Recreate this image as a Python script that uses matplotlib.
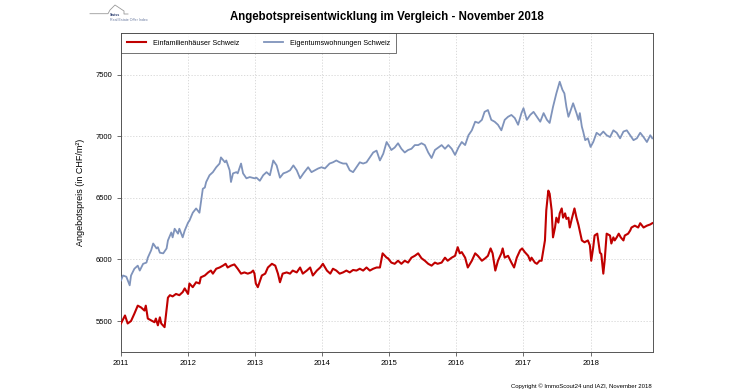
import matplotlib
matplotlib.use("Agg")
import matplotlib.pyplot as plt
from matplotlib.lines import Line2D

plt.rcParams['font.family'] = ['Liberation Sans', 'DejaVu Sans']

# Einfamilienhäuser Schweiz (CHF/m2), decimal year
efh_year = [2011.00, 2011.06, 2011.10, 2011.15, 2011.20, 2011.25, 2011.30, 2011.35, 2011.37, 2011.40,
            2011.45, 2011.50, 2011.52, 2011.55, 2011.58, 2011.60, 2011.65, 2011.70, 2011.73, 2011.77,
            2011.82, 2011.87, 2011.92, 2011.95, 2012.00, 2012.02, 2012.07, 2012.12, 2012.17, 2012.19,
            2012.25, 2012.30, 2012.34, 2012.37, 2012.42, 2012.47, 2012.52, 2012.56, 2012.59, 2012.64,
            2012.69, 2012.74, 2012.79, 2012.84, 2012.89, 2012.94, 2012.97, 2012.99, 2013.01, 2013.04,
            2013.10, 2013.15, 2013.19, 2013.25, 2013.30, 2013.34, 2013.37, 2013.41, 2013.47, 2013.52,
            2013.56, 2013.62, 2013.67, 2013.71, 2013.77, 2013.82, 2013.86, 2013.92, 2013.97, 2014.01,
            2014.07, 2014.12, 2014.16, 2014.21, 2014.26, 2014.31, 2014.36, 2014.41, 2014.46, 2014.51,
            2014.56, 2014.61, 2014.66, 2014.71, 2014.76, 2014.81, 2014.86, 2014.90, 2014.96, 2014.98,
            2015.03, 2015.08, 2015.13, 2015.18, 2015.23, 2015.28, 2015.33, 2015.38, 2015.43, 2015.48,
            2015.53, 2015.58, 2015.63, 2015.68, 2015.72, 2015.78, 2015.83, 2015.87, 2015.93, 2015.98,
            2016.02, 2016.05, 2016.08, 2016.13, 2016.17, 2016.23, 2016.28, 2016.32, 2016.38, 2016.43,
            2016.47, 2016.51, 2016.54, 2016.58, 2016.62, 2016.67, 2016.69, 2016.72, 2016.77, 2016.82,
            2016.86, 2016.90, 2016.95, 2016.98, 2017.02, 2017.07, 2017.10, 2017.12, 2017.17, 2017.20,
            2017.24, 2017.27, 2017.32, 2017.34, 2017.37, 2017.39, 2017.42, 2017.44, 2017.47, 2017.49,
            2017.52, 2017.54, 2017.57, 2017.59, 2017.62, 2017.64, 2017.67, 2017.69, 2017.72, 2017.76,
            2017.79, 2017.82, 2017.87, 2017.91, 2017.96, 2017.99, 2018.01, 2018.04, 2018.06, 2018.10,
            2018.14, 2018.16, 2018.19, 2018.21, 2018.24, 2018.29, 2018.31, 2018.34, 2018.36, 2018.39,
            2018.42, 2018.45, 2018.49, 2018.51, 2018.56, 2018.59, 2018.61, 2018.66, 2018.71, 2018.74,
            2018.79, 2018.84, 2018.89, 2018.92]
efh_price = [5480, 5545, 5480, 5500, 5560, 5625, 5610, 5585, 5625, 5520,
             5505, 5490, 5520, 5465, 5530, 5480, 5450, 5690, 5710, 5700,
             5720, 5710, 5735, 5765, 5720, 5805, 5775, 5815, 5805, 5855,
             5870, 5895, 5910, 5885, 5925, 5935, 5950, 5965, 5935, 5950,
             5960, 5925, 5885, 5895, 5885, 5895, 5910, 5885, 5805, 5775,
             5870, 5885, 5935, 5965, 5950, 5885, 5815, 5885, 5895, 5885,
             5910, 5895, 5935, 5885, 5910, 5935, 5870, 5910, 5935, 5965,
             5910, 5885, 5925, 5910, 5885, 5895, 5910, 5895, 5915, 5910,
             5925, 5910, 5935, 5910, 5925, 5935, 5935, 6050, 6015, 6010,
             5975, 5965, 5990, 5965, 5990, 5975, 6015, 6030, 6050, 6010,
             5990, 5965, 5950, 5975, 5965, 5975, 6015, 5990, 6015, 6030,
             6100, 6050, 6060, 6015, 5935, 5990, 6050, 6030, 5990, 6010,
             6030, 6090, 6050, 5910, 5990, 6050, 6090, 6015, 6030, 5975,
             5935, 6015, 6075, 6090, 6060, 6030, 5990, 6015, 5975, 5965,
             5990, 5990, 6155, 6400, 6560, 6535, 6400, 6180, 6260, 6340,
             6300, 6375, 6415, 6340, 6375, 6330, 6340, 6260, 6330, 6415,
             6340, 6280, 6155, 6140, 6155, 6115, 5990, 6100, 6195, 6210,
             6055, 6045, 5885, 5990, 6210, 6195, 6130, 6180, 6155, 6180,
             6210, 6180, 6155, 6195, 6210, 6235, 6260, 6275, 6260, 6295,
             6260, 6275, 6285, 6295]

# Eigentumswohnungen Schweiz (CHF/m2), decimal year
etw_year = [2011.00, 2011.03, 2011.08, 2011.13, 2011.15, 2011.20, 2011.25, 2011.28, 2011.33, 2011.38,
            2011.40, 2011.45, 2011.48, 2011.53, 2011.55, 2011.58, 2011.63, 2011.68, 2011.70, 2011.75,
            2011.77, 2011.80, 2011.85, 2011.87, 2011.92, 2011.95, 2012.00, 2012.02, 2012.07, 2012.12,
            2012.17, 2012.22, 2012.25, 2012.27, 2012.32, 2012.37, 2012.42, 2012.47, 2012.49, 2012.55,
            2012.57, 2012.62, 2012.64, 2012.67, 2012.72, 2012.74, 2012.79, 2012.82, 2012.87, 2012.92,
            2012.99, 2013.02, 2013.07, 2013.12, 2013.17, 2013.22, 2013.27, 2013.32, 2013.37, 2013.42,
            2013.47, 2013.52, 2013.57, 2013.62, 2013.67, 2013.72, 2013.79, 2013.84, 2013.89, 2013.94,
            2013.99, 2014.04, 2014.11, 2014.16, 2014.21, 2014.26, 2014.31, 2014.36, 2014.41, 2014.46,
            2014.51, 2014.56, 2014.61, 2014.66, 2014.71, 2014.76, 2014.81, 2014.86, 2014.91, 2014.96,
            2015.01, 2015.03, 2015.08, 2015.13, 2015.18, 2015.23, 2015.28, 2015.33, 2015.38, 2015.43,
            2015.48, 2015.53, 2015.58, 2015.63, 2015.68, 2015.73, 2015.78, 2015.83, 2015.88, 2015.93,
            2015.98, 2016.03, 2016.08, 2016.13, 2016.18, 2016.23, 2016.28, 2016.33, 2016.38, 2016.42,
            2016.47, 2016.52, 2016.57, 2016.62, 2016.67, 2016.72, 2016.77, 2016.82, 2016.87, 2016.92,
            2016.97, 2017.00, 2017.05, 2017.10, 2017.15, 2017.20, 2017.25, 2017.30, 2017.35, 2017.39,
            2017.44, 2017.49, 2017.54, 2017.58, 2017.61, 2017.64, 2017.67, 2017.69, 2017.74, 2017.79,
            2017.82, 2017.84, 2017.87, 2017.89, 2017.92, 2017.96, 2018.00, 2018.04, 2018.09, 2018.14,
            2018.19, 2018.24, 2018.29, 2018.34, 2018.39, 2018.44, 2018.49, 2018.54, 2018.59, 2018.64,
            2018.69, 2018.74, 2018.79, 2018.84, 2018.89, 2018.92]
etw_price = [5830, 5870, 5860, 5790, 5870, 5925, 5950, 5910, 5965, 5975,
             6015, 6075, 6130, 6090, 6100, 6055, 6050, 6090, 6155, 6220,
             6180, 6250, 6210, 6250, 6180, 6235, 6300, 6315, 6380, 6415,
             6380, 6575, 6585, 6630, 6685, 6710, 6750, 6780, 6830, 6790,
             6805, 6725, 6630, 6700, 6710, 6700, 6780, 6700, 6660, 6670,
             6660, 6665, 6640, 6685, 6710, 6685, 6805, 6765, 6665, 6700,
             6710, 6725, 6765, 6725, 6660, 6700, 6750, 6710, 6725, 6740,
             6750, 6740, 6780, 6790, 6805, 6790, 6780, 6780, 6725, 6710,
             6750, 6790, 6780, 6790, 6830, 6870, 6885, 6805, 6860, 6955,
             6910, 6890, 6910, 6945, 6900, 6870, 6890, 6900, 6930, 6930,
             6945, 6930, 6870, 6825, 6890, 6910, 6930, 6900, 6930, 6900,
             6850, 6910, 6955, 6930, 7010, 7050, 7120, 7110, 7135, 7200,
             7215, 7135, 7120, 7095, 7050, 7135, 7160, 7175, 7150, 7095,
             7190, 7230, 7135, 7175, 7200, 7160, 7120, 7190, 7135, 7110,
             7240, 7350, 7445, 7380, 7350, 7240, 7160, 7190, 7270, 7190,
             7135, 7190, 7080, 7040, 6970, 6985, 6915, 6955, 7030, 7010,
             7040, 7010, 6995, 7050, 7030, 6985, 7040, 7050, 7010, 6970,
             6985, 7030, 6995, 6955, 7010, 6985]

year_ticks = [2011, 2012, 2013, 2014, 2015, 2016, 2017, 2018]
price_ticks = [5500, 6000, 6500, 7000, 7500]

red = '#c00000'
blue = '#7f93bb'

fig = plt.figure(figsize=(7.5, 3.92), dpi=100)
ax = fig.add_axes([0.1613, 0.102, 0.7093, 0.8138])

ax.plot(efh_year, efh_price, color=red, lw=1.5, label='Einfamilienhäuser Schweiz', zorder=3)
ax.plot(etw_year, etw_price, color=blue, lw=1.3, label='Eigentumswohnungen Schweiz', zorder=3)

ax.set_xlim(2011, 2018.93)
ax.set_ylim(5248, 7841)
ax.set_xticks(year_ticks)
ax.set_xticklabels([str(y) for y in year_ticks])
ax.set_yticks(price_ticks)
ax.tick_params(labelsize=5.5, length=3, width=0.6, color='#555555', pad=3)
ax.grid(True, color='#d4d4d4', linestyle=(0, (1.5, 2)), linewidth=0.6)
ax.set_axisbelow(True)
for s in ax.spines.values():
    s.set_linewidth(0.7)
    s.set_color('#555555')

ax.set_ylabel('Angebotspreis (in CHF/m²)', fontsize=6.5, labelpad=8)

leg = ax.legend(loc='upper left', ncol=2, fontsize=5.2, frameon=True, fancybox=False,
                borderaxespad=0, handlelength=2.6, columnspacing=3.5, borderpad=0.9,
                handletextpad=0.9)
leg.get_frame().set_edgecolor('#333333')
leg.get_frame().set_linewidth(0.6)

fig.text(0.516, 0.957, 'Angebotspreisentwicklung im Vergleich - November 2018',
         ha='center', va='center', fontsize=8.3, fontweight='bold')
fig.text(652 / 750, 1 - 386 / 392, 'Copyright © ImmoScout24 und IAZI, November 2018',
         ha='right', va='center', fontsize=4.3)

# small logo top left
def px(x, y):
    return x / 750, 1 - y / 392

logo_x = [90, 108, 110, 115, 121, 124, 124, 128]
logo_y = [13.7, 13.7, 10, 5, 9, 11, 14, 14]
xs, ys = zip(*[px(a, b) for a, b in zip(logo_x, logo_y)])
fig.add_artist(Line2D(xs, ys, color='#9a9a9a', lw=0.6))
fig.text(*px(110, 15.5), 'Swiss', fontsize=2.6, color='#2c3e70', fontweight='bold', va='center')
fig.text(*px(110, 20), 'Real Estate Offer Index', fontsize=2.6, color='#6a7aa0', va='center')

fig.savefig('out.png', dpi=100)
